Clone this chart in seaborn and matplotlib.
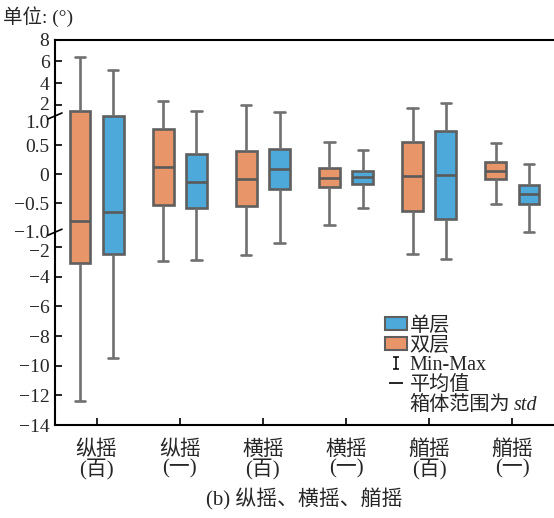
import numpy as np
import pandas as pd
import matplotlib
matplotlib.use("Agg")
import matplotlib.pyplot as plt
from matplotlib.patches import Patch
from matplotlib.lines import Line2D
from matplotlib.path import Path
import matplotlib.transforms as mtransforms
import seaborn as sns

# ---------------- data ----------------
categories = ["纵摇\n(百)", "纵摇\n(一)", "横摇\n(百)", "横摇\n(一)", "艏摇\n(百)", "艏摇\n(一)"]
series = ["双层", "单层"]
# 双层 (orange)
double_min  = [-12.35, -2.96, -2.51, -0.87, -2.49, -0.52]
double_low  = [-3.11, -0.54, -0.55, -0.22, -0.63, -0.09]   # mean - std
double_mean = [-0.80,  0.12, -0.08, -0.06, -0.03,  0.05]
double_high = [ 1.46,  0.78,  0.40,  0.10,  0.55,  0.20]   # mean + std
double_max  = [ 6.39,  2.38,  2.00,  0.56,  1.73,  0.54]
# 单层 (blue)
single_min  = [-9.47, -2.89, -1.72, -0.59, -2.78, -1.02]
single_low  = [-2.44, -0.59, -0.26, -0.17, -0.77, -0.52]
single_mean = [-0.66, -0.13,  0.09, -0.05, -0.02, -0.35]
single_high = [ 1.00,  0.35,  0.44,  0.06,  0.74, -0.18]
single_max  = [ 5.22,  1.46,  1.37,  0.41,  2.16,  0.18]

yticks = [8, 6, 4, 2, 1.0, 0.5, 0, -0.5, -1.0, -2, -4, -6, -8, -10, -12, -14]
ytick_labels = ["8", "6", "4", "2", "1.0", "0.5", "0", "−0.5", "−1.0", "−2", "−4",
                "−6", "−8", "−10", "−12", "−14"]

c_orange = "#E9956A"
c_blue = "#4DA9D9"

rows = []
stats = {"双层": (double_min, double_low, double_mean, double_high, double_max),
         "单层": (single_min, single_low, single_mean, single_high, single_max)}
for s in series:
    mn, lo, me, hi, mx = stats[s]
    for i, c in enumerate(categories):
        for v in (mn[i], lo[i], me[i], hi[i], mx[i]):
            rows.append({"cat": c, "series": s, "val": v})
df = pd.DataFrame(rows)

# ---------------- style ----------------
sns.set_theme(style="ticks")
plt.rcParams["font.family"] = ["Liberation Serif", "Noto Sans CJK SC"]
plt.rcParams["axes.unicode_minus"] = False

fig = plt.figure(figsize=(5.54, 5.18), dpi=100)
ax = fig.add_axes([55 / 554, 1 - 425 / 518, 499 / 554, (425 - 39.5) / 518])

# piecewise linear (broken) y scale
k_up = 10.9 / 58.0
k_lo = 14.8 / 58.0

def fwd(v):
    v = np.asarray(v, dtype=float)
    return np.where(v > 1, 1 + (v - 1) * k_up, np.where(v < -1, -1 + (v + 1) * k_lo, v))

def inv(t):
    t = np.asarray(t, dtype=float)
    return np.where(t > 1, 1 + (t - 1) / k_up, np.where(t < -1, -1 + (t + 1) / k_lo, t))

ax.set_yscale("function", functions=(fwd, inv))

sns.boxplot(data=df, x="cat", y="val", hue="series", order=categories,
            hue_order=series, palette={"双层": c_orange, "单层": c_blue},
            whis=(0, 100), width=0.8, gap=0.375, linewidth=1.9,
            linecolor="#5f5f5f", showfliers=False, legend=False, ax=ax,
            saturation=1,
            whiskerprops=dict(color="#707070", linewidth=1.9),
            capprops=dict(color="#707070", linewidth=1.9),
            medianprops=dict(color="#5a5a5a", linewidth=1.9))

ax.set_ylim(-14, 8)
ax.set_xlim(-0.5, 5.5)
ax.set_yticks(yticks)
ax.set_yticklabels(ytick_labels)
ax.yaxis.set_minor_locator(matplotlib.ticker.NullLocator())
ax.tick_params(axis="y", direction="in", length=5, width=1.2, labelsize=14, pad=4, color="black")
ax.tick_params(axis="x", direction="in", length=5, width=1.2, labelsize=15, pad=11, color="black")
for lab in ax.get_xticklabels():
    lab.set_linespacing(0.95)
ax.set_xlabel("(b) 纵摇、横摇、艏摇", fontsize=15, labelpad=6)
ax.set_ylabel("")
for sp in ["left", "bottom", "top"]:
    ax.spines[sp].set_linewidth(1.5)
    ax.spines[sp].set_color("black")
ax.spines["right"].set_visible(False)

# hide tick lines at the break positions; nudge labels near the breaks
shifts = {2: 1.5, 1.0: -6, -1.0: 1, -2: -3}
for t, loc in zip(ax.yaxis.get_major_ticks(), yticks):
    if abs(abs(loc) - 1.0) < 1e-9:
        t.tick1line.set_visible(False)
    for k, dy in shifts.items():
        if abs(loc - k) < 1e-9:
            t.label1.set_transform(t.label1.get_transform() +
                                   mtransforms.ScaledTranslation(0, dy / 100, fig.dpi_scale_trans))

# break marks on y axis
for yv in (1.0, -1.0):
    yt = ax.transData.transform((0, yv))[1]
    x0 = ax.transAxes.transform((0, 0))[0]
    line = Line2D([x0 - 7, x0 + 7], [yt - 3, yt + 3], color="black", lw=1.2,
                  transform=None, clip_on=False)
    fig.lines.append(line)

fig.text(3 / 554, 1 - 17 / 518, "单位: (°)", fontsize=14, va="center", ha="left")

ipath = Path([(-0.5, 1), (0.5, 1), (0, 1), (0, -1), (-0.5, -1), (0.5, -1)],
             [Path.MOVETO, Path.LINETO, Path.MOVETO, Path.LINETO, Path.MOVETO, Path.LINETO])
handles = [Patch(facecolor=c_blue, edgecolor="#5f5f5f", linewidth=1.5),
           Patch(facecolor=c_orange, edgecolor="#5f5f5f", linewidth=1.5),
           Line2D([], [], linestyle="none", marker=ipath, color="black", markersize=9,
                  markeredgewidth=1.1),
           Line2D([], [], linestyle="none", marker="_", color="black", markersize=10,
                  markeredgewidth=1.2),
           Line2D([], [], linestyle="none")]
labels = ["单层", "双层", "Min-Max", "平均值", "箱体范围为"]
leg = fig.legend(handles, labels, loc="upper left", bbox_to_anchor=(385 / 554, 1 - 317 / 518),
                 frameon=False, fontsize=14.5, handlelength=1.1, handleheight=0.62,
                 handletextpad=0.12, labelspacing=0.03, borderpad=0, borderaxespad=0)

fig.canvas.draw()
r = fig.canvas.get_renderer()
bb = leg.get_texts()[4].get_window_extent(r)
fig.text((bb.x1 + 4) / fig.bbox.width, (bb.y0 + bb.y1) / 2 / fig.bbox.height, "std",
         fontsize=14.5, style="italic", va="center", ha="left", family="Liberation Serif")

fig.savefig("out.png", dpi=100)
